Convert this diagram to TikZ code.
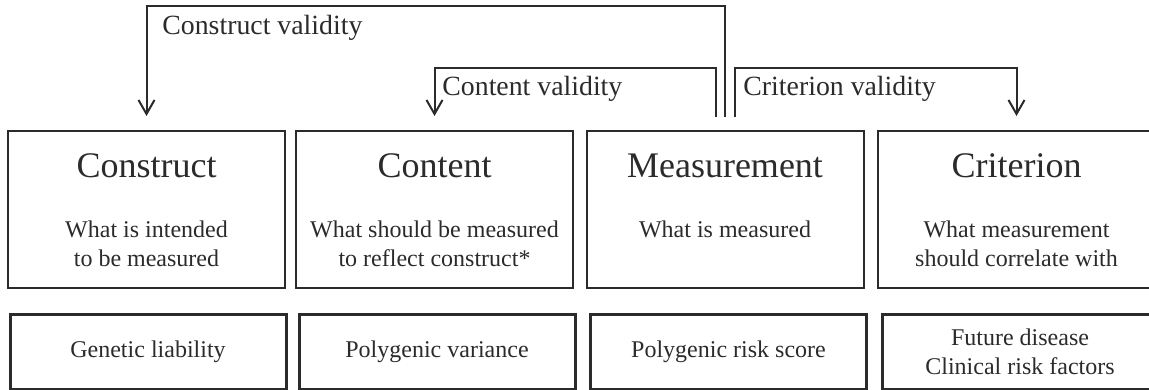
\documentclass[tikz,border=0pt]{standalone}
\usepackage{fontspec}
\setmainfont{Liberation Serif}
\usetikzlibrary{arrows.meta}
\definecolor{ink}{HTML}{2B2B2B}
\tikzset{
  box/.style={draw=ink, line width=1pt, minimum width=138.5pt, minimum height=78.5pt, inner sep=0pt},
  lowbox/.style={draw=ink, line width=1.5pt, minimum width=138pt, minimum height=37.5pt,
    inner sep=0pt, align=center, text=ink, font=\fontsize{12}{14.5}\selectfont},
  head/.style={text=ink, inner sep=0pt, font=\fontsize{18}{22}\selectfont},
  desc/.style={text=ink, inner sep=0pt, align=center, font=\fontsize{12}{14.5}\selectfont},
  lbl/.style={text=ink, inner sep=0pt, font=\fontsize{13.9}{16}\selectfont},
  validity/.style={draw=ink, line width=1pt, -{Straight Barb[length=7pt,width=8pt]},
    shorten <=6.5pt, shorten >=7pt}
}

\begin{document}
\begin{tikzpicture}[x=0.5pt,y=-0.5pt]
\useasboundingbox (0,0) rectangle (1149,390);
% the upper boxes
\foreach \n/\x/\h/\d in {construct/146.5/Construct/{What is intended\\to be measured},
    content/434.5/Content/{What should be measured\\to reflect construct*},
    meas/725/Measurement/{What is measured},
    crit/1016.5/Criterion/{What measurement\\should correlate with}}
{
  \node[box] (\n) at (\x,209.5) {};
  \node[head,anchor=base] (\n-head) at (\x,177) {\h};
  \node[desc,anchor=north] (\n-desc) at (\x,220.5) {\d};
}
% the lower boxes
\foreach \n/\x/\t in {gen/148/Genetic liability, poly/437/Polygenic variance,
    prs/728.5/Polygenic risk score, outcome/1020/{Future disease\\Clinical risk factors}}
  \node[lowbox] (\n) at (\x,351.5) {\t};
% the three validities
\draw[validity] (meas.north) -- ++(0,-124) -| (construct.north);
\draw[validity] ([xshift=-4.5pt]meas.north) -- ++(0,-62) -| (content.north);
\draw[validity] ([xshift=5pt]meas.north) -- ++(0,-62) -| (crit.north);
\node[lbl,anchor=base west] (construct-val) at (162,35) {Construct validity};
\node[lbl,anchor=base west] (content-val) at (442,96) {Content validity};
\node[lbl,anchor=base west] (crit-val) at (743,96) {Criterion validity};
\end{tikzpicture}
\end{document}
